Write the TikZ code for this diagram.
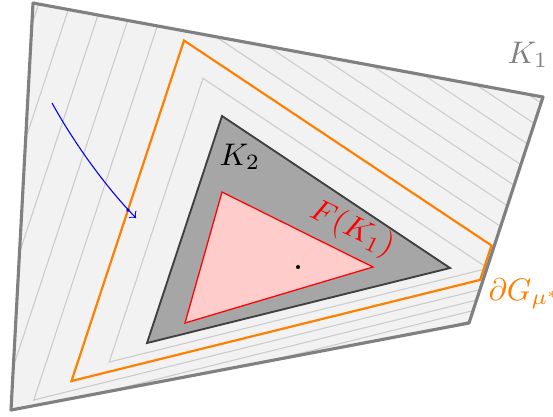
\documentclass[tikz,border=0pt]{standalone}
\usepackage{amsmath,amssymb}
\usetikzlibrary{calc}

\begin{document}
\begin{tikzpicture}[x=0.32pt, y=-0.32pt,
  outer/.style={draw=gray, line width=1pt, line join=round},
  level/.style={draw=gray!40, line width=0.35pt},
  gbound/.style={draw=orange, line width=0.7pt},
  inner/.style={draw=black!75, fill=gray!70, line width=0.6pt},
  image/.style={draw=red, fill=red!20, line width=0.4pt},
  flow/.style={->, blue, line width=0.35pt},
  lab/.style={inner sep=0pt, anchor=base west}]
\useasboundingbox (0,0) rectangle (553,416);
% ---------------- the sets K_1 and K_2
\coordinate (k1a) at (33,3);   \coordinate (k1b) at (543,97);
\coordinate (k1c) at (469,323); \coordinate (k1d) at (11,410);
\coordinate (ctr) at (298,267);
\coordinate (k2a) at (222,116); \coordinate (k2b) at (450,268); \coordinate (k2c) at (147,343);
\fill[gray!10] (k1a) -- (k1b) -- (k1c) -- (k1d) -- cycle;
% level sets: K_2 blown up around the fixed point, cut by K_1
\begin{scope}
  \clip (k1a) -- (k1b) -- (k1c) -- (k1d) -- cycle;
  \foreach \s in {1.25,1.75,2,2.25,2.5,2.75,3,3.25}
    \draw[level] ($(ctr)!\s!(k2a)$) -- ($(ctr)!\s!(k2b)$) -- ($(ctr)!\s!(k2c)$) -- cycle;
\end{scope}
% ---------------- boundary of G
\coordinate (ga) at ($(ctr)!1.5!(k2a)$);
\coordinate (gb) at ($(ctr)!1.5!(k2b)$);
\coordinate (gc) at ($(ctr)!1.5!(k2c)$);
\coordinate (eb) at ($(k1b)+(-3,0)$); \coordinate (ec) at ($(k1c)+(-3,0)$);
\draw[gbound] (ga) -- (intersection of ga--gb and eb--ec)
  -- (intersection of gc--gb and eb--ec) -- (gc) -- cycle;
% ---------------- K_2 and its image
\draw[inner] (k2a) -- (k2b) -- (k2c) -- cycle;
\coordinate (fa) at (222,192); \coordinate (fb) at (373,267); \coordinate (fc) at (185,323);
\draw[image] (fa) -- (fb) -- (fc) -- cycle;
\fill (ctr) circle[radius=0.65pt];
\draw[outer] (k1a) -- (k1b) -- (k1c) -- (k1d) -- cycle;
% ---------------- labels
\node[lab, text=gray] (lk1) at (507,63) {$K_1$};
\node[lab] (lk2) at (219,165) {$K_2$};
\node[lab, text=orange] (lg) at (488,300) {$\partial G_{\mu^*}$};
\node[text=red, inner sep=0pt, rotate=-26] (lf) at (352,229) {$F(K_1)$};
% ---------------- a trajectory
\coordinate (x0) at (52,103); \coordinate (x1) at (136,218); \coordinate (xc) at (128,210);
\draw[flow] (x0) .. controls (73,141) and (104,185) .. (x1);
\fill[blue] (xc) circle[radius=0.6pt];
\end{tikzpicture}
\end{document}
